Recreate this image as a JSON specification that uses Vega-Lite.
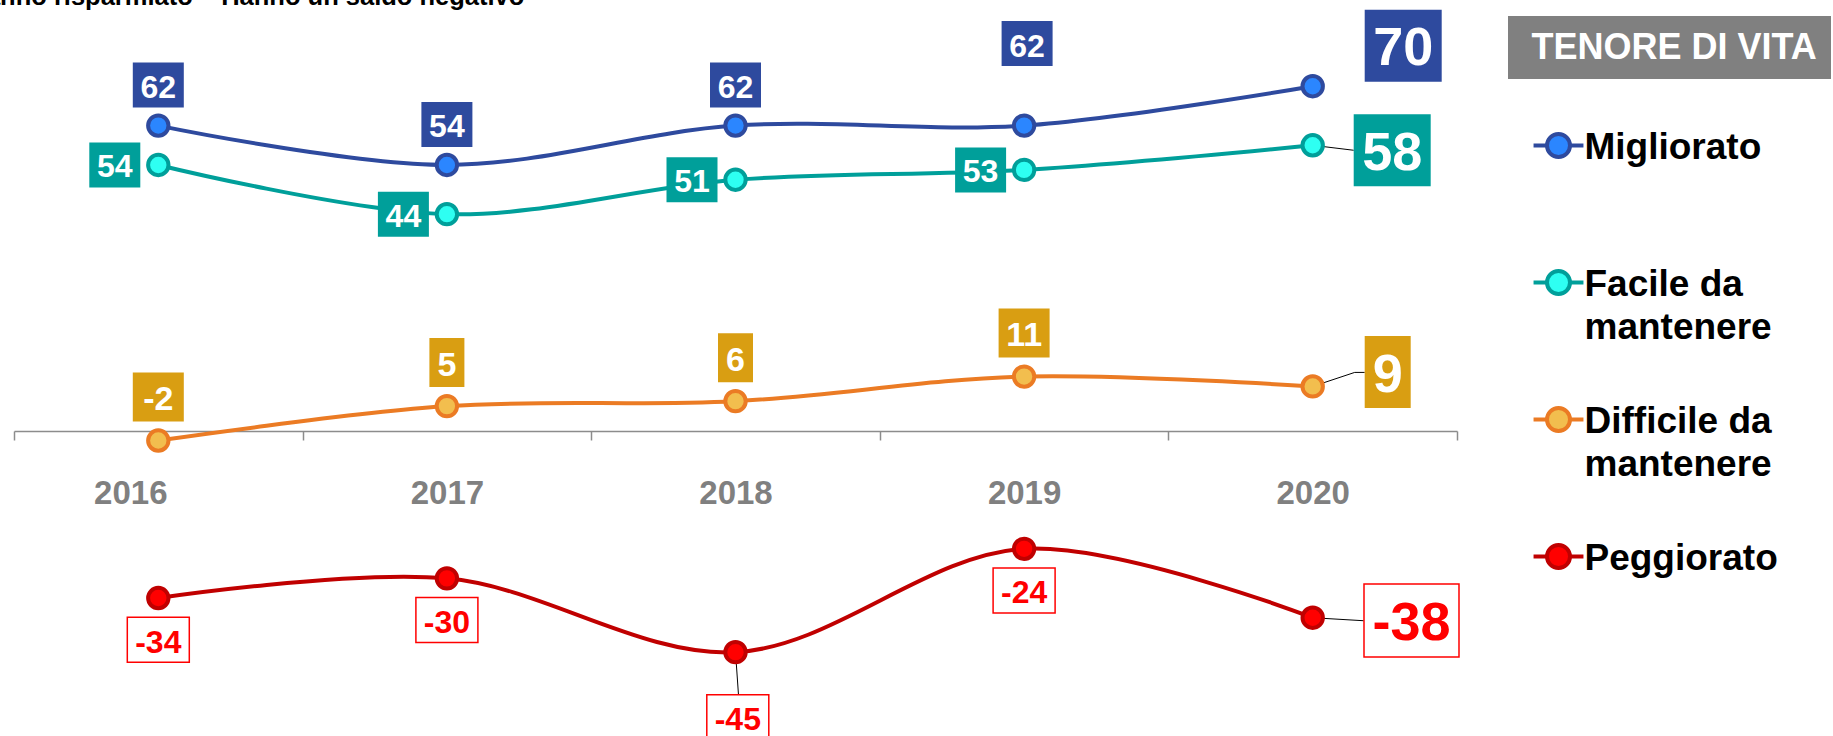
{
  "$schema": "https://vega.github.io/schema/vega-lite/v6.json",
  "width": 1443,
  "height": 689,
  "autosize": {"type": "none"},
  "padding": {"left": 14, "top": 37, "right": 376, "bottom": 10},
  "background": "#ffffff",
  "config": {"view": {"stroke": null}, "font": "Liberation Sans", "style": {"guide-label": {"lineHeight": 43}}},
  "title": {
    "text": "Hanno risparmiato – Hanno un saldo negativo",
    "anchor": "start", "frame": "group",
    "font": "Liberation Sans", "fontSize": 25.5, "fontWeight": "bold", "color": "#000000",
    "dx": -46.5, "offset": 0, "dy": 21, "baseline": "alphabetic"
  },
  "data": {"values": [
    {"year": "2016", "series": "Migliorato", "value": 62},
    {"year": "2017", "series": "Migliorato", "value": 54},
    {"year": "2018", "series": "Migliorato", "value": 62},
    {"year": "2019", "series": "Migliorato", "value": 62},
    {"year": "2020", "series": "Migliorato", "value": 70},
    {"year": "2016", "series": "Facile da mantenere", "value": 54},
    {"year": "2017", "series": "Facile da mantenere", "value": 44},
    {"year": "2018", "series": "Facile da mantenere", "value": 51},
    {"year": "2019", "series": "Facile da mantenere", "value": 53},
    {"year": "2020", "series": "Facile da mantenere", "value": 58},
    {"year": "2016", "series": "Difficile da mantenere", "value": -2},
    {"year": "2017", "series": "Difficile da mantenere", "value": 5},
    {"year": "2018", "series": "Difficile da mantenere", "value": 6},
    {"year": "2019", "series": "Difficile da mantenere", "value": 11},
    {"year": "2020", "series": "Difficile da mantenere", "value": 9},
    {"year": "2016", "series": "Peggiorato", "value": -34},
    {"year": "2017", "series": "Peggiorato", "value": -30},
    {"year": "2018", "series": "Peggiorato", "value": -45},
    {"year": "2019", "series": "Peggiorato", "value": -24},
    {"year": "2020", "series": "Peggiorato", "value": -38}
  ]},
  "encoding": {
    "x": {
      "field": "year", "type": "ordinal", "bandPosition": 0.5,
      "scale": {"type": "band", "paddingInner": 0, "paddingOuter": 0},
      "axis": {
        "orient": "bottom", "offset": -295, "title": null, "labelAngle": 0,
        "domainColor": "#8c8c8c", "domainWidth": 1.5,
        "tickColor": "#8c8c8c", "tickSize": 9, "tickWidth": 1.5, "tickBand": "extent",
        "labelFont": "Liberation Sans", "labelFontSize": 33, "labelFontWeight": "bold",
        "labelColor": "#808080", "labelPadding": 37,
        "labelOffset": {"condition": {"test": "datum.value === '2016'", "value": -28}, "value": 0}
      }
    },
    "y": {
      "field": "value", "type": "quantitative",
      "scale": {"domain": [-60, 80], "nice": false, "zero": false},
      "axis": null
    }
  },
  "layer": [
    {
      "mark": {"type": "line", "interpolate": "catmull-rom", "strokeWidth": 4},
      "encoding": {
        "stroke": {"field": "series", "type": "nominal",
          "scale": {"domain": ["Migliorato", "Facile da mantenere", "Difficile da mantenere", "Peggiorato"],
                    "range": ["#2E4A9E", "#009F9A", "#EB7B24", "#C00000"]}}
      }
    },
    {
      "transform": [{"filter": "(datum.year == '2020' && datum.series != 'Migliorato') || (datum.year == '2018' && datum.series == 'Peggiorato')"}],
      "mark": {"type": "point", "filled": false, "stroke": "#000000", "strokeWidth": 1, "size": 4, "opacity": 1},
      "encoding": {
        "shape": {"condition": [
          {"test": "datum.series == 'Facile da mantenere'", "value": "M0,0L41,5"},
          {"test": "datum.series == 'Difficile da mantenere'", "value": "M0,0L42,-14H52"},
          {"test": "datum.year == '2018'", "value": "M0,0L3,43"}
        ], "value": "M0,0L51,3"}
      }
    },
    {
      "mark": {"type": "point", "size": 415, "strokeWidth": 4, "opacity": 1, "fillOpacity": 1, "strokeOpacity": 1},
      "encoding": {
        "stroke": {"field": "series", "type": "nominal",
          "scale": {"domain": ["Migliorato", "Facile da mantenere", "Difficile da mantenere", "Peggiorato"],
                    "range": ["#2E4A9E", "#009F9A", "#EB7B24", "#C00000"]}},
        "fill": {"field": "series", "type": "nominal",
          "scale": {"domain": ["Migliorato", "Facile da mantenere", "Difficile da mantenere", "Peggiorato"],
                    "range": ["#2B86FF", "#2EFFF2", "#F2BE4E", "#FF0000"]},
          "legend": {
            "orient": "none", "legendX": 1526, "legendY": 74.5, "title": null, "padding": 0,
            "direction": "vertical", "gridAlign": "all", "rowPadding": 39,
            "symbolType": "M-2.17,1.35H-1M1,1.35H2.17M-1,1.35A1,1 0 1,1 1,1.35A1,1 0 1,1 -1,1.35Z",
            "symbolSize": 529, "symbolStrokeWidth": 4,
            "labelFont": "Liberation Sans", "labelFontSize": 37, "labelFontWeight": "bold",
            "labelColor": "#000000", "labelBaseline": "top", "labelOffset": 7.5, "labelLimit": 500,
            "labelExpr": "datum.label == 'Facile da mantenere' ? ['Facile da', 'mantenere'] : datum.label == 'Difficile da mantenere' ? ['Difficile da', 'mantenere'] : datum.label"
          }},
        "shape": {"datum": "TENORE DI VITA", "type": "nominal",
          "scale": {"range": ["circle"]},
          "legend": {
            "orient": "none", "legendX": 1494, "legendY": -21, "title": null, "padding": 13.5,
            "fillColor": "#808080", "symbolOpacity": 0, "symbolSize": 1, "symbolStrokeWidth": 0,
            "labelOffset": -26, "labelFont": "Liberation Sans", "labelFontSize": 36, "labelFontWeight": "bold",
            "labelColor": "#ffffff", "labelLimit": 600
          }}
      }
    },
    {
      "transform": [{"filter": "datum.series == 'Migliorato' && (datum.year == '2016' || datum.year == '2017' || datum.year == '2018')"}],
      "mark": {"type": "point", "filled": true, "fill": "#2E4A9E", "strokeWidth": 0, "size": 4, "opacity": 1, "shape": "M-25.5,-63H25.5V-18H-25.5Z"}
    },
    {
      "transform": [{"filter": "datum.series == 'Migliorato' && (datum.year == '2016' || datum.year == '2017' || datum.year == '2018')"}],
      "mark": {"type": "text", "font": "Liberation Sans", "fontWeight": "bold", "fontSize": 32, "color": "#ffffff", "align": "center", "baseline": "middle", "dy": -38},
      "encoding": {"text": {"field": "value", "type": "nominal"}}
    },
    {
      "transform": [{"filter": "datum.series == 'Migliorato' && datum.year == '2019'"}],
      "mark": {"type": "point", "filled": true, "fill": "#2E4A9E", "strokeWidth": 0, "size": 4, "opacity": 1, "shape": "M-22.5,-104.5H28.5V-59.5H-22.5Z"}
    },
    {
      "transform": [{"filter": "datum.series == 'Migliorato' && datum.year == '2019'"}],
      "mark": {"type": "text", "font": "Liberation Sans", "fontWeight": "bold", "fontSize": 32, "color": "#ffffff", "align": "center", "baseline": "middle", "dx": 3, "dy": -79},
      "encoding": {"text": {"field": "value", "type": "nominal"}}
    },
    {
      "transform": [{"filter": "datum.series == 'Migliorato' && datum.year == '2020'"}],
      "mark": {"type": "point", "filled": true, "fill": "#2E4A9E", "strokeWidth": 0, "size": 4, "opacity": 1, "shape": "M52,-76.5H129V-4.5H52Z"}
    },
    {
      "transform": [{"filter": "datum.series == 'Migliorato' && datum.year == '2020'"}],
      "mark": {"type": "text", "font": "Liberation Sans", "fontWeight": "bold", "fontSize": 54, "color": "#ffffff", "align": "center", "baseline": "middle", "dx": 90.5, "dy": -37},
      "encoding": {"text": {"field": "value", "type": "nominal"}}
    },
    {
      "transform": [{"filter": "datum.series == 'Facile da mantenere' && datum.year != '2020'"}],
      "mark": {"type": "point", "filled": true, "fill": "#009F9A", "strokeWidth": 0, "size": 4, "opacity": 1, "shape": "M-69,-22.5H-18V22.5H-69Z"}
    },
    {
      "transform": [{"filter": "datum.series == 'Facile da mantenere' && datum.year != '2020'"}],
      "mark": {"type": "text", "font": "Liberation Sans", "fontWeight": "bold", "fontSize": 32, "color": "#ffffff", "align": "center", "baseline": "middle", "dx": -43.5, "dy": 2.5},
      "encoding": {"text": {"field": "value", "type": "nominal"}}
    },
    {
      "transform": [{"filter": "datum.series == 'Facile da mantenere' && datum.year == '2020'"}],
      "mark": {"type": "point", "filled": true, "fill": "#009F9A", "strokeWidth": 0, "size": 4, "opacity": 1, "shape": "M41,-31H118V41H41Z"}
    },
    {
      "transform": [{"filter": "datum.series == 'Facile da mantenere' && datum.year == '2020'"}],
      "mark": {"type": "text", "font": "Liberation Sans", "fontWeight": "bold", "fontSize": 54, "color": "#ffffff", "align": "center", "baseline": "middle", "dx": 79.5, "dy": 8.5},
      "encoding": {"text": {"field": "value", "type": "nominal"}}
    },
    {
      "transform": [{"filter": "datum.series == 'Difficile da mantenere' && datum.year != '2020'"}],
      "mark": {"type": "point", "filled": true, "fill": "#D99E12", "strokeWidth": 0, "size": 4, "opacity": 1},
      "encoding": {"shape": {"condition": {"test": "datum.value >= 0 && datum.value < 10", "value": "M-17.5,-68H17.5V-19H-17.5Z"}, "value": "M-25.5,-68H25.5V-19H-25.5Z"}}
    },
    {
      "transform": [{"filter": "datum.series == 'Difficile da mantenere' && datum.year != '2020'"}],
      "mark": {"type": "text", "font": "Liberation Sans", "fontWeight": "bold", "fontSize": 34, "color": "#ffffff", "align": "center", "baseline": "middle", "dy": -40.5},
      "encoding": {"text": {"field": "value", "type": "nominal"}}
    },
    {
      "transform": [{"filter": "datum.series == 'Difficile da mantenere' && datum.year == '2020'"}],
      "mark": {"type": "point", "filled": true, "fill": "#D99E12", "strokeWidth": 0, "size": 4, "opacity": 1, "shape": "M52,-50.3H98V21.7H52Z"}
    },
    {
      "transform": [{"filter": "datum.series == 'Difficile da mantenere' && datum.year == '2020'"}],
      "mark": {"type": "text", "font": "Liberation Sans", "fontWeight": "bold", "fontSize": 54, "color": "#ffffff", "align": "center", "baseline": "middle", "dx": 75, "dy": -10.5},
      "encoding": {"text": {"field": "value", "type": "nominal"}}
    },
    {
      "transform": [{"filter": "datum.series == 'Peggiorato' && (datum.year == '2016' || datum.year == '2017' || datum.year == '2019')"}],
      "mark": {"type": "point", "filled": true, "fill": "#ffffff", "stroke": "#FF0000", "strokeWidth": 1.5, "size": 4, "opacity": 1, "shape": "M-31,19.2H31V64.2H-31Z"}
    },
    {
      "transform": [{"filter": "datum.series == 'Peggiorato' && (datum.year == '2016' || datum.year == '2017' || datum.year == '2019')"}],
      "mark": {"type": "text", "font": "Liberation Sans", "fontWeight": "bold", "fontSize": 32, "color": "#FF0000", "align": "center", "baseline": "middle", "dy": 44.5},
      "encoding": {"text": {"field": "value", "type": "nominal"}}
    },
    {
      "transform": [{"filter": "datum.series == 'Peggiorato' && datum.year == '2018'"}],
      "mark": {"type": "point", "filled": true, "fill": "#ffffff", "stroke": "#FF0000", "strokeWidth": 1.5, "size": 4, "opacity": 1, "shape": "M-28.7,42.6H33.3V87.6H-28.7Z"}
    },
    {
      "transform": [{"filter": "datum.series == 'Peggiorato' && datum.year == '2018'"}],
      "mark": {"type": "text", "font": "Liberation Sans", "fontWeight": "bold", "fontSize": 32, "color": "#FF0000", "align": "center", "baseline": "middle", "dx": 2.3, "dy": 68},
      "encoding": {"text": {"field": "value", "type": "nominal"}}
    },
    {
      "transform": [{"filter": "datum.series == 'Peggiorato' && datum.year == '2020'"}],
      "mark": {"type": "point", "filled": true, "fill": "#ffffff", "stroke": "#FF0000", "strokeWidth": 1.5, "size": 4, "opacity": 1, "shape": "M51.3,-33.7H146.3V39.3H51.3Z"}
    },
    {
      "transform": [{"filter": "datum.series == 'Peggiorato' && datum.year == '2020'"}],
      "mark": {"type": "text", "font": "Liberation Sans", "fontWeight": "bold", "fontSize": 54, "color": "#FF0000", "align": "center", "baseline": "middle", "dx": 98.8, "dy": 6.5},
      "encoding": {"text": {"field": "value", "type": "nominal"}}
    }
  ]
}
